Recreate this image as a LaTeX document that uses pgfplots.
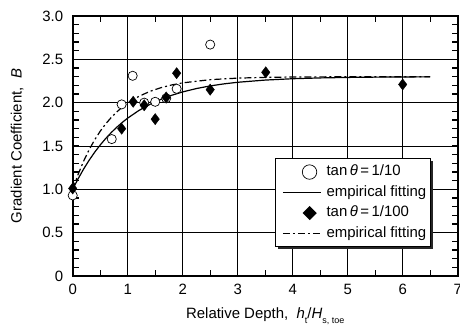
\documentclass[border=0pt]{standalone}
\usepackage{fontspec}
\setmainfont{Liberation Sans}
\usepackage{pgfplots}
\pgfplotsset{compat=1.18}
\usetikzlibrary{shadows,shapes.geometric}
\makeatletter
\tikzset{noshadow/.code={\let\tikz@preactions\pgfutil@empty}}
\makeatother
\pgfplotsset{
  linelegend/.style={legend image code/.code={\path (-4bp,0bp) (42bp,0bp); \draw[noshadow,##1] (0bp,0bp) -- (38bp,0bp);}},
  circlelegend/.style={legend image code/.code={\path (-4bp,0bp) (42bp,0bp);
    \node[noshadow, circle, draw=black, fill=white, line width=0.7bp, minimum size=9.2bp, inner sep=0pt] at (19bp,0bp) {};}},
  diamondlegend/.style={legend image code/.code={\path (-4bp,0bp) (42bp,0bp);
    \node[noshadow, diamond, fill=black, minimum width=11.2bp, minimum height=11.2bp, inner sep=0pt] at (19bp,0bp) {};}},
}
\newcommand{\sub}[1]{\raisebox{-0.7ex}{\fontsize{9}{9}\selectfont #1}}
\begin{document}
\begin{tikzpicture}
\begin{axis}[
  at={(0,0)}, anchor=south west,
  scale only axis, width=385bp, height=260bp,
  xmin=0, xmax=7, ymin=0, ymax=3,
  xtick={0,1,2,3,4,5,6,7},
  ytick={0,0.5,1,1.5,2,2.5,3},
  yticklabels={0,0.5,1.0,1.5,2.0,2.5,3.0},
  minor x tick num=1, minor y tick num=4,
  tick align=inside, major tick length=6bp, minor tick length=6bp,
  every tick/.style={black, line width=1.3bp},
  grid=major, major grid style={black, line width=1bp},
  axis line style={line width=2bp},
  /pgf/number format/assume math mode=true,
  tick label style={font=\fontsize{15}{18}\selectfont},
  xticklabel style={yshift=-5bp},
  yticklabel style={xshift=-6bp},
  label style={font=\fontsize{15}{18}\selectfont},
  xlabel={Relative Depth,~~\textit{h}\sub{t}/\textit{H}\sub{s, toe}},
  ylabel={Gradient Coefficient,~~\textit{B}},
  xlabel style={at={(axis description cs:0.5,-0.1627)}, anchor=base},
  ylabel style={at={(axis description cs:-0.1325,0.5)}, anchor=base},
  clip=false,
  legend style={at={(0.93,0.4527)}, anchor=north east, draw=black, line width=1bp,
    fill=white, inner sep=3bp, row sep=0bp, font=\fontsize{15}{18}\selectfont,
    drop shadow={shadow xshift=2.5bp, shadow yshift=-2.5bp, fill=black!85, opacity=1},
    cells={anchor=west},
    nodes={inner ysep=3bp, inner xsep=1bp, text height=11bp, text depth=3.5bp}},
]
% empirical fitting, tan theta = 1/10
\addplot[forget plot, black, line width=1.2bp] coordinates {
(0,1.000)(0.1,1.1237)(0.2,1.2357)(0.3,1.3369)(0.4,1.4286)(0.5,1.5115)(0.6,1.5866)
(0.7,1.6544)(0.8,1.7159)(0.9,1.7714)(1.0,1.8218)(1.2,1.9084)(1.4,1.9794)(1.6,2.0375)
(1.8,2.0851)(2.0,2.1241)(2.25,2.1630)(2.5,2.1933)(2.75,2.2169)(3.0,2.2353)(3.5,2.2607)
(4.0,2.2762)(4.5,2.2856)(5.0,2.2912)(5.5,2.2947)(6.0,2.2968)(6.5,2.2980)};
% empirical fitting, tan theta = 1/100
\addplot[forget plot, black, line width=1.2bp, dash pattern=on 7bp off 3bp on 2bp off 3bp] coordinates {
(0,1.000)(0.1,1.1755)(0.2,1.3272)(0.3,1.4585)(0.4,1.5721)(0.5,1.6704)(0.6,1.7553)
(0.7,1.8289)(0.8,1.8924)(0.9,1.9474)(1.0,1.9950)(1.2,2.0718)(1.4,2.1293)(1.6,2.1722)
(1.8,2.2044)(2.0,2.2285)(2.5,2.2654)(3.0,2.2832)(3.5,2.2919)(4.0,2.2961)(5.0,2.2991)
(6.0,2.2998)(6.5,2.2999)};
% tan theta = 1/10
\addplot[forget plot, only marks, mark=*, mark size=4.6bp,
  mark options={fill=white, draw=black, line width=0.7bp}] coordinates {
(0,0.93)(0.71,1.58)(0.89,1.98)(1.09,2.31)(1.30,2.00)(1.50,2.01)(1.70,2.05)(1.89,2.16)(2.50,2.67)};
% tan theta = 1/100
\addplot[forget plot, only marks, mark=diamond*, mark size=5.6bp,
  mark options={fill=black, draw=black, line width=0.4bp}] coordinates {
(0,1.01)(0.89,1.70)(1.10,2.01)(1.30,1.97)(1.50,1.81)(1.70,2.06)(1.89,2.34)(2.50,2.15)(3.51,2.35)(6.0,2.21)};
\addlegendimage{circlelegend}
\addlegendentry{tan\,\textit{θ}\,=\,1/10}
\addlegendimage{black, line width=1.2bp, linelegend}
\addlegendentry{empirical fitting}
\addlegendimage{diamondlegend}
\addlegendentry{tan\,\textit{θ}\,=\,1/100}
\addlegendimage{black, line width=1.2bp, dash pattern=on 7bp off 3bp on 2bp off 3bp, linelegend}
\addlegendentry{empirical fitting}
\end{axis}
\pgfresetboundingbox
\path (-72.7bp,-55bp) rectangle (387.3bp,276bp);
\end{tikzpicture}
\end{document}
